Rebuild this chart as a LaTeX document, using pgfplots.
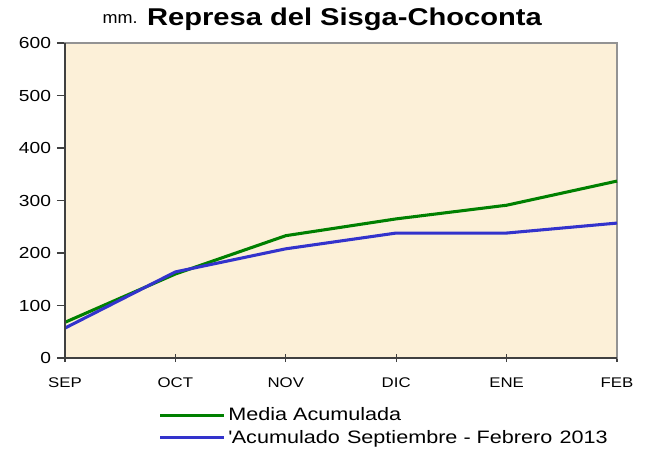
\documentclass[border=0pt]{standalone}
\usepackage{fontspec}
\setmainfont[FakeStretch=1.2]{Liberation Sans}
\usepackage{pgfplots}
\pgfplotsset{compat=1.18}
\definecolor{bgbeige}{RGB}{252,240,216}
\definecolor{lgreen}{RGB}{0,128,0}
\definecolor{lblue}{RGB}{51,51,204}
\definecolor{darkax}{RGB}{64,64,64}
\begin{document}
\begin{tikzpicture}
\begin{axis}[
  at={(0pt,0pt)}, anchor=south west,
  scale only axis, width=414pt, height=236.25pt,
  xmin=0, xmax=5, ymin=0, ymax=600,
  xtick={0,1,2,3,4,5},
  xticklabels={SEP,OCT,NOV,DIC,ENE,FEB},
  ytick={0,100,200,300,400,500,600},
  axis background/.style={fill=bgbeige},
  axis line style={draw=gray!85, line width=1.1pt},
  xtick pos=bottom, ytick pos=left,
  x tick style={draw=darkax, line width=0.8pt},
  y tick style={draw=darkax, line width=0.8pt},
  xtick align=center, ytick align=outside,
  major tick length=6pt,
  xticklabel style={font=\fontsize{10.5}{12}\selectfont, yshift=-8pt},
  yticklabel style={font=\fontsize{12}{14}\selectfont, xshift=-1pt},
  /pgf/number format/assume math mode=true,
  legend style={at={(0.167,-0.145)}, anchor=north west, draw=none, fill=none,
    font=\fontsize{13.5}{15}\selectfont, row sep=1.5pt, inner sep=1pt,
    legend cell align=left},
  legend image code/.code={\draw[#1, line width=2.2pt] (0pt,0pt) -- (48pt,0pt);},
  clip=false,
]
\addplot[lgreen, line width=2.3pt] coordinates {(0,68) (1,160) (2,233) (3,265) (4,291) (5,337)};
\addlegendentry{Media Acumulada}
\addplot[lblue, line width=2.3pt] coordinates {(0,57) (1,164) (2,208) (3,238) (4,238) (5,257)};
\addlegendentry{\textquotesingle Acumulado\hspace{0.4em}Septiembre - Febrero\hspace{0.4em}2013}
\draw[darkax, line width=1.2pt] (rel axis cs:0,1) -- (rel axis cs:0,0) -- (rel axis cs:1,0);
\end{axis}
\node[anchor=base west, font=\fontsize{12.5}{14}\selectfont, xscale=0.9] at (25pt,251pt) {mm.};
\node[anchor=base west, font=\bfseries\fontsize{18.2}{21}\selectfont] at (58pt,249pt) {Represa del Sisga-Choconta};
\pgfresetboundingbox
\path (-48.75pt,-69pt) rectangle (438.75pt,268.5pt);
\end{tikzpicture}
\end{document}
